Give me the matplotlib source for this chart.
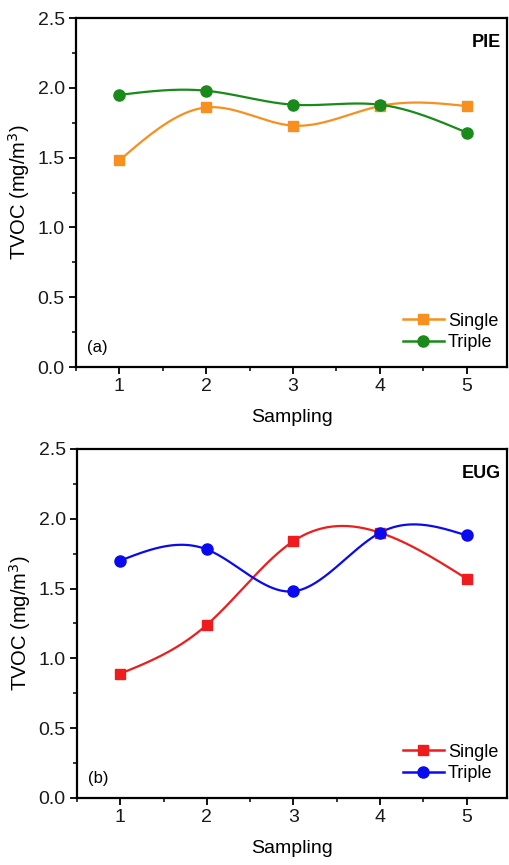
import numpy as np
import matplotlib
matplotlib.use("Agg")
import matplotlib.pyplot as plt
from matplotlib.ticker import MultipleLocator

plt.rcParams['font.family'] = ['Liberation Sans', 'DejaVu Sans']

sampling = [1, 2, 3, 4, 5]
pie_single = [1.48, 1.86, 1.73, 1.87, 1.87]
pie_triple = [1.95, 1.98, 1.88, 1.88, 1.68]
eug_single = [0.89, 1.24, 1.84, 1.90, 1.57]
eug_triple = [1.70, 1.78, 1.48, 1.90, 1.88]


def natural_spline(x, y, n=200):
    x = np.asarray(x, float); y = np.asarray(y, float)
    m = len(x)
    h = np.diff(x)
    A = np.zeros((m, m)); b = np.zeros(m)
    A[0, 0] = 1; A[-1, -1] = 1
    for i in range(1, m - 1):
        A[i, i - 1] = h[i - 1]
        A[i, i] = 2 * (h[i - 1] + h[i])
        A[i, i + 1] = h[i]
        b[i] = 3 * ((y[i + 1] - y[i]) / h[i] - (y[i] - y[i - 1]) / h[i - 1])
    c = np.linalg.solve(A, b)
    xs = np.linspace(x[0], x[-1], n)
    ys = np.empty_like(xs)
    for k, xv in enumerate(xs):
        i = min(np.searchsorted(x, xv, side='right') - 1, m - 2)
        dx = xv - x[i]
        bi = (y[i + 1] - y[i]) / h[i] - h[i] * (2 * c[i] + c[i + 1]) / 3
        di = (c[i + 1] - c[i]) / (3 * h[i])
        ys[k] = y[i] + bi * dx + c[i] * dx ** 2 + di * dx ** 3
    return xs, ys


fig = plt.figure(figsize=(5.09, 8.65), dpi=100)
ax1 = fig.add_axes([0.149, 0.5757, 0.848, 0.4033])
ax2 = fig.add_axes([0.151, 0.0775, 0.846, 0.4035])

panels = [
    (ax1, pie_single, pie_triple, '#F7901E', '#1A8A1A', 'PIE', '(a)'),
    (ax2, eug_single, eug_triple, '#EE1C1C', '#0A0AF0', 'EUG', '(b)'),
]

for ax, s, t, cs, ct, name, lab in panels:
    xs, ys = natural_spline(sampling, s)
    ax.plot(xs, ys, color=cs, lw=1.6)
    xt, yt = natural_spline(sampling, t)
    ax.plot(xt, yt, color=ct, lw=1.6)
    ax.plot(sampling, s, 's', color=cs, ms=7.5)
    ax.plot(sampling, t, 'o', color=ct, ms=8)
    hs, = ax.plot([], [], '-s', color=cs, lw=1.8, ms=7.5, label='Single')
    ht, = ax.plot([], [], '-o', color=ct, lw=1.8, ms=8, label='Triple')
    ax.legend(handles=[hs, ht], loc='lower right', frameon=False, fontsize=13,
              handlelength=2.3, handletextpad=0.2, labelspacing=0.25,
              borderaxespad=0.0, bbox_to_anchor=(0.995, 0.025))
    ax.set_xlim(0.5, 5.47)
    ax.set_ylim(0, 2.5)
    ax.xaxis.set_major_locator(MultipleLocator(1))
    ax.xaxis.set_minor_locator(MultipleLocator(0.5))
    ax.yaxis.set_major_locator(MultipleLocator(0.5))
    ax.yaxis.set_minor_locator(MultipleLocator(0.25))
    ax.yaxis.set_major_formatter(matplotlib.ticker.FormatStrFormatter('%.1f'))
    ax.tick_params(which='major', direction='out', length=5, width=1.3,
                   labelsize=14, pad=3, labelcolor='#1a1a1a')
    ax.tick_params(which='minor', direction='out', length=3, width=1.1)
    ax.tick_params(top=False, right=False)
    for sp in ax.spines.values():
        sp.set_linewidth(1.6)
    ax.set_xlabel('Sampling', fontsize=14, labelpad=10)
    ax.set_ylabel('TVOC (mg/m$^3$)', fontsize=14.5, labelpad=4)
    ax.text(0.985, 0.955, name, transform=ax.transAxes, ha='right', va='top',
            fontsize=13, fontweight='bold')
    ax.text(0.025, 0.035, lab, transform=ax.transAxes, ha='left', va='bottom',
            fontsize=12)

fig.savefig('out.png', dpi=100)
